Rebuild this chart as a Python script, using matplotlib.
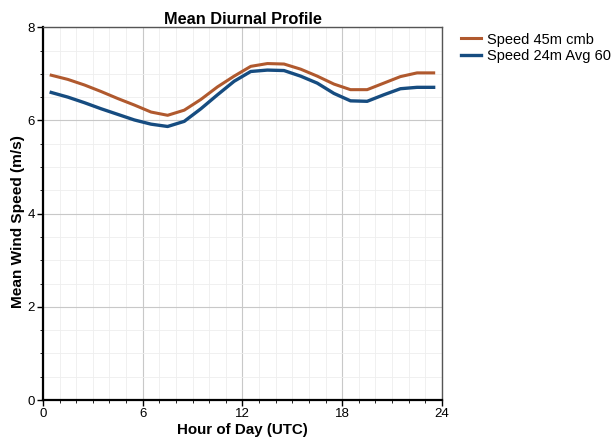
import numpy as np
import matplotlib
matplotlib.use('Agg')
import matplotlib.pyplot as plt
from matplotlib.ticker import MultipleLocator

hours = [h + 0.5 for h in range(24)]
speed_45m = [6.97, 6.88, 6.76, 6.62, 6.47, 6.33, 6.18, 6.11, 6.22, 6.45, 6.72, 6.95,
             7.16, 7.22, 7.21, 7.10, 6.95, 6.78, 6.66, 6.66, 6.80, 6.94, 7.02, 7.02]
speed_24m = [6.60, 6.50, 6.38, 6.25, 6.13, 6.01, 5.92, 5.87, 5.98, 6.25, 6.55, 6.84,
             7.05, 7.08, 7.07, 6.95, 6.80, 6.58, 6.42, 6.41, 6.55, 6.68, 6.71, 6.71]
series_names = ['Speed 45m cmb', 'Speed 24m Avg 60']
x_ticks = [0, 6, 12, 18, 24]
y_ticks = [0, 2, 4, 6, 8]

plt.rcParams['font.family'] = ['Liberation Sans', 'DejaVu Sans']

fig = plt.figure(figsize=(6.13, 4.46), dpi=100)
ax = fig.add_axes([0.070, 0.103, 0.651, 0.836])

ax.plot(hours, speed_45m, color='#B0592E', lw=2.2, label=series_names[0])
ax.plot(hours, speed_24m, color='#164C80', lw=2.4, label=series_names[1])

ax.set_xlim(0, 24)
ax.set_ylim(0, 8)
ax.set_xticks(x_ticks)
ax.set_yticks(y_ticks)
ax.xaxis.set_minor_locator(MultipleLocator(1))
ax.yaxis.set_minor_locator(MultipleLocator(0.5))
ax.grid(which='major', color='#C8C8C8', lw=0.8)
ax.grid(which='minor', color='#EEEEEE', lw=0.6)
ax.set_axisbelow(True)

ax.tick_params(which='major', direction='out', length=4, width=1, labelsize=9.5, pad=2)
ax.tick_params(which='minor', direction='out', length=2, width=0.6)
for side in ['left', 'bottom']:
    ax.spines[side].set_linewidth(1.6)
for side in ['top', 'right']:
    ax.spines[side].set_linewidth(1.0)
    ax.spines[side].set_color('#555555')

ax.set_title('Mean Diurnal Profile', fontsize=11.8, fontweight='bold', pad=2)
ax.set_xlabel('Hour of Day (UTC)', fontsize=10.9, fontweight='bold', labelpad=2)
ax.set_ylabel('Mean Wind Speed (m/s)', fontsize=11.1, fontweight='bold')
ax.yaxis.set_label_coords(-0.045, 0.48)

fig.legend(loc='upper left', bbox_to_anchor=(0.742, 0.94), frameon=False,
           fontsize=10.5, handlelength=1.4, handletextpad=0.4, labelspacing=0.15,
           borderaxespad=0)

fig.savefig('out.png', dpi=100)
